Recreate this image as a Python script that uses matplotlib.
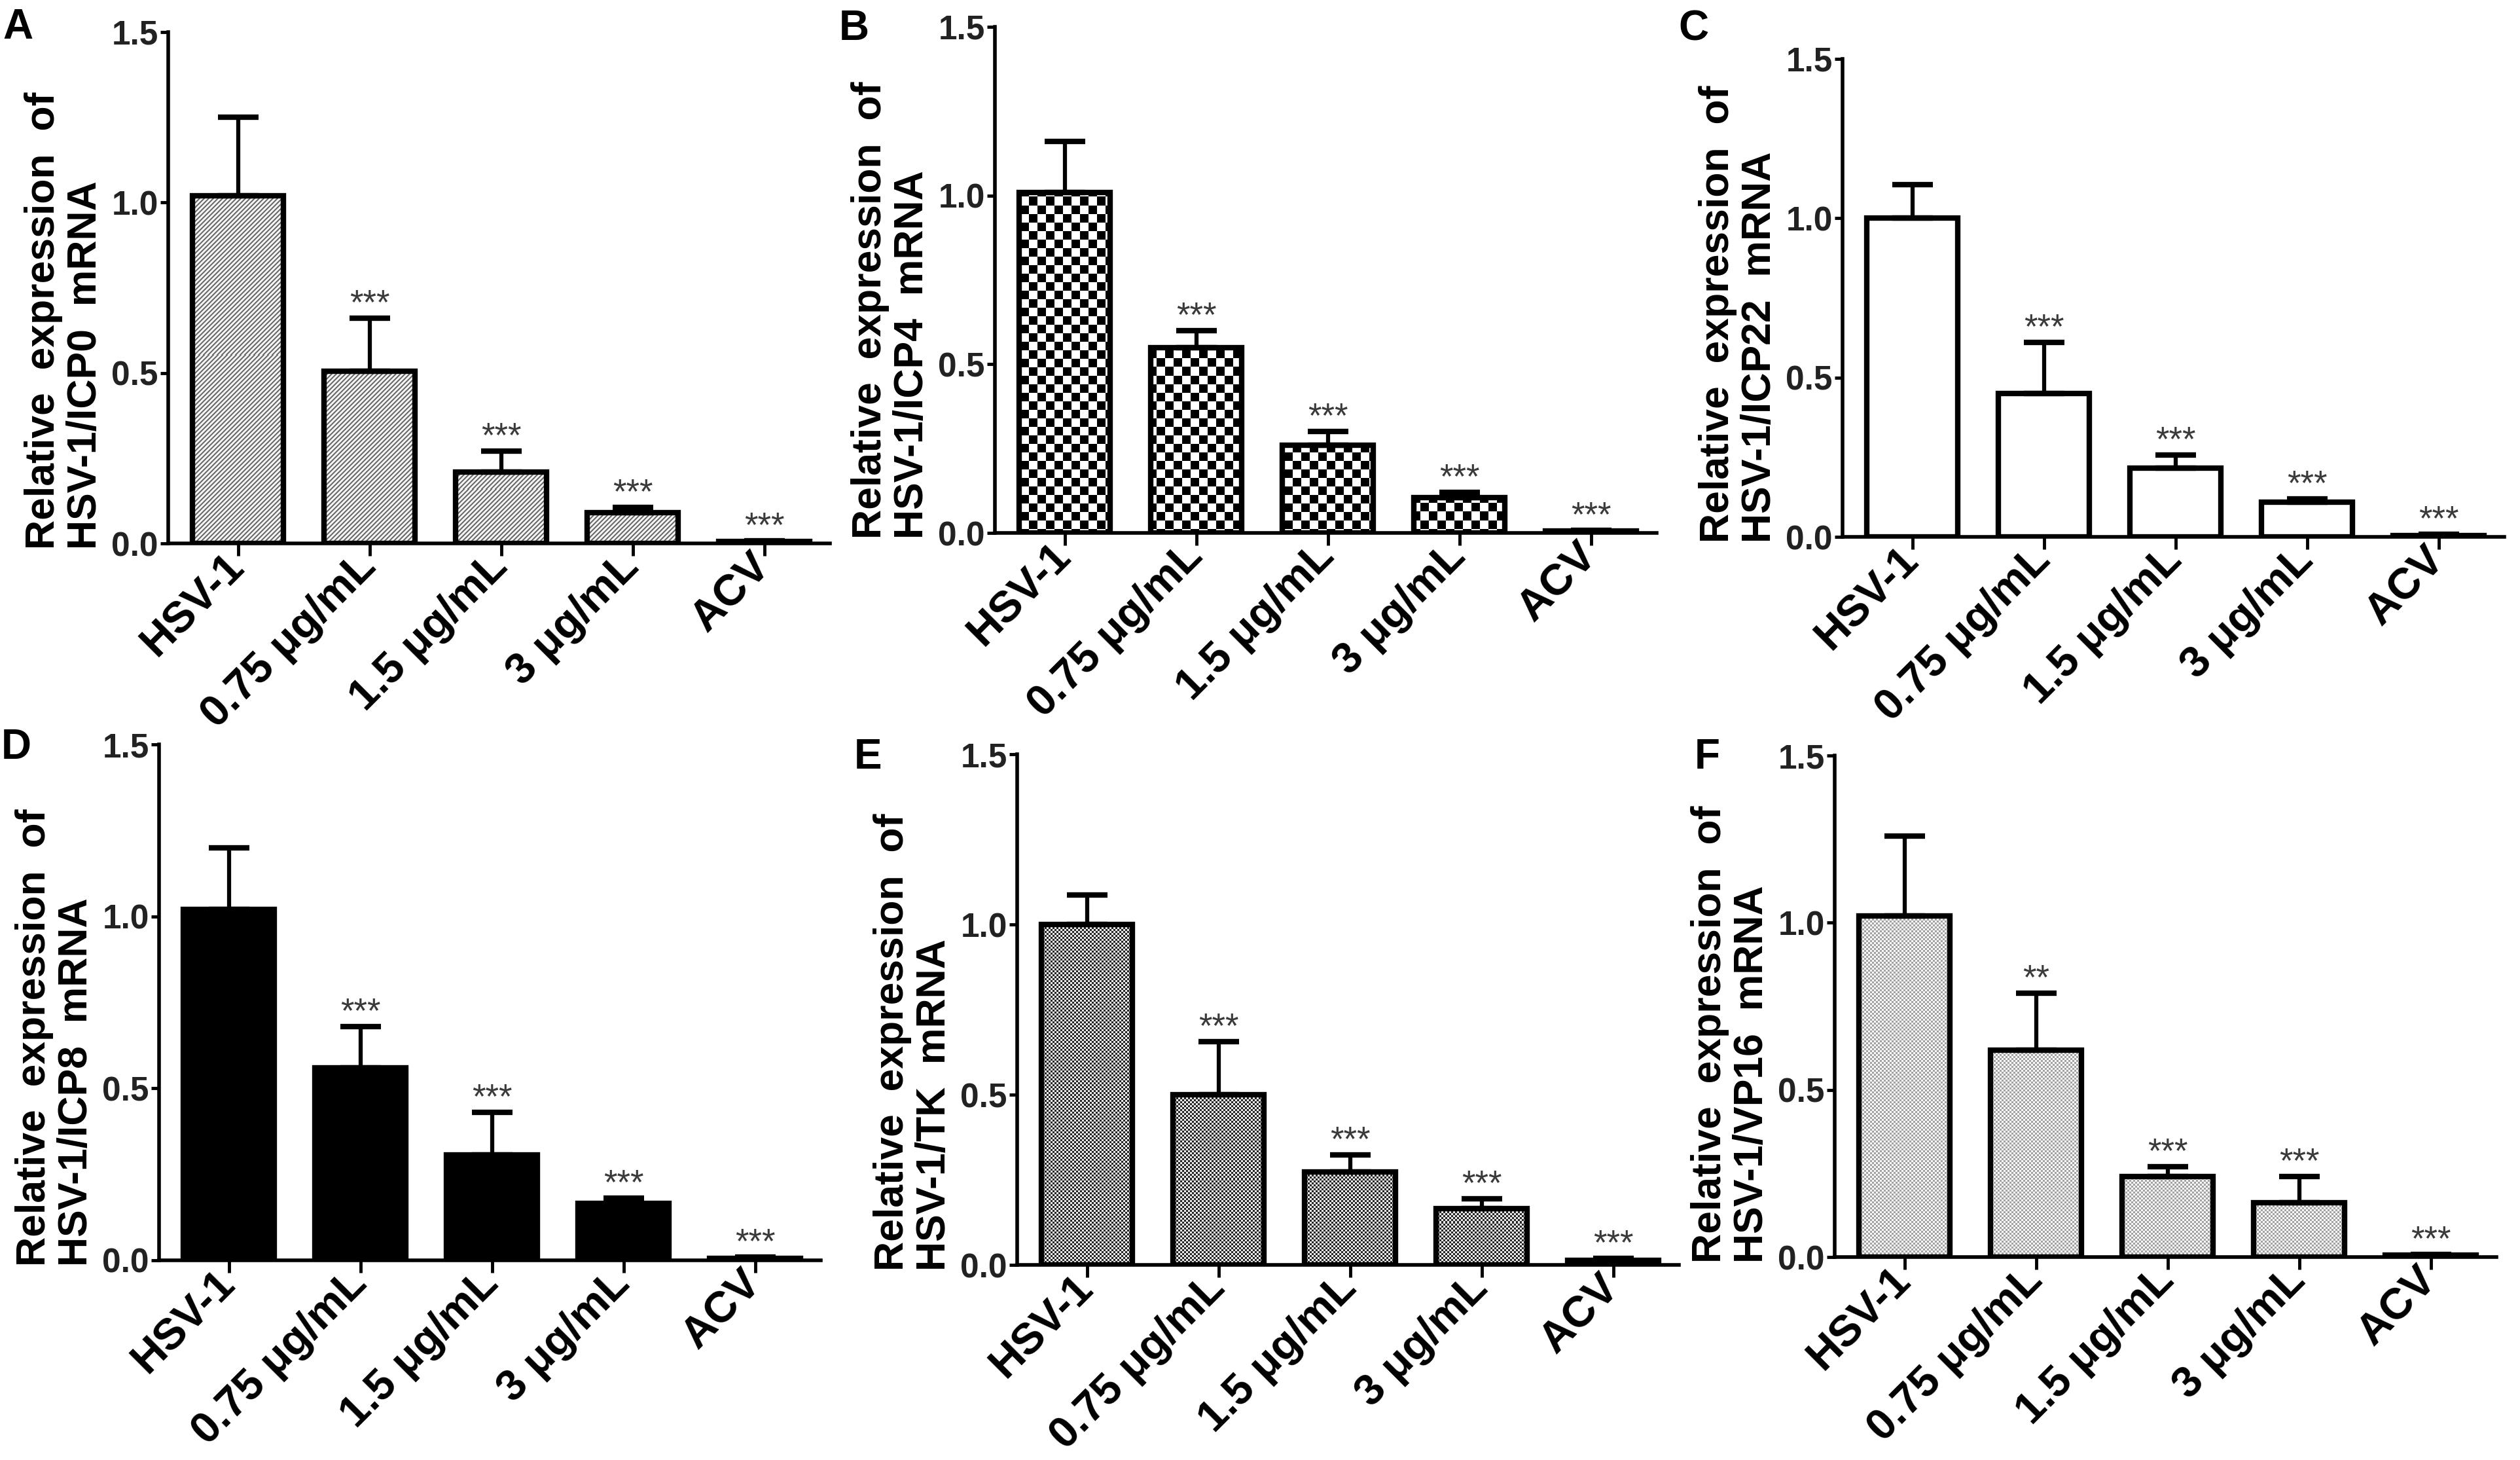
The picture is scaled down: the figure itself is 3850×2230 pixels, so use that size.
import numpy as np
import matplotlib.pyplot as plt

groups = ['HSV-1', '0.75 μg/mL', '1.5 μg/mL', '3 μg/mL', 'ACV']

# relative expression (mean) and upper error (SD) per gene
icp0_mean = [1.02, 0.505, 0.21, 0.09, 0.005]
icp0_err = [0.23, 0.155, 0.06, 0.015, 0.003]
icp4_mean = [1.01, 0.55, 0.26, 0.105, 0.005]
icp4_err = [0.15, 0.05, 0.04, 0.015, 0.003]
icp22_mean = [1.00, 0.45, 0.216, 0.108, 0.005]
icp22_err = [0.105, 0.16, 0.04, 0.012, 0.003]
icp8_mean = [1.02, 0.56, 0.306, 0.165, 0.006]
icp8_err = [0.18, 0.12, 0.125, 0.015, 0.004]
tk_mean = [1.00, 0.50, 0.273, 0.166, 0.014]
tk_err = [0.087, 0.155, 0.05, 0.028, 0.006]
vp16_mean = [1.02, 0.618, 0.24, 0.162, 0.005]
vp16_err = [0.24, 0.172, 0.03, 0.078, 0.003]

stars_all = ['', '***', '***', '***', '***']
stars_f = ['', '**', '***', '***', '***']

FW, FH = 3850, 2230
fig = plt.figure(figsize=(FW / 100, FH / 100), dpi=100)

narrow = ['Liberation Sans Narrow', 'Liberation Sans', 'DejaVu Sans']
wide = ['Liberation Sans', 'DejaVu Sans']

XLIM = (-0.53, 4.5)
YLIM = (0, 1.5)


def pattern(kind, h, w):
    i, j = np.mgrid[0:h, 0:w]
    if kind == 'diag':
        m = (i + j) % 7 < 3
        a, b = 0.45, 0.95
    elif kind == 'check':
        m = ((i // 13) + (j // 13)) % 2 == 0
        a, b = 0.0, 1.0
    elif kind == 'fine':
        m = ((i // 3) + (j // 3)) % 2 == 0
        a, b = 0.15, 0.92
    else:  # dots
        m = ((i // 3) + (j // 3)) % 2 == 0
        a, b = 0.64, 0.98
    g = np.where(m, a, b)
    return np.dstack([g, g, g])


panels = [
    # letter, letter pos, axes px (x0, ytop, y0), means, errs, stars, ylabel, fill
    ('A', (4, 12), (257, 49, 830), icp0_mean, icp0_err, stars_all,
     'Relative  expression  of\nHSV-1/ICP0  mRNA', 'diag'),
    ('B', (1282, 14), (1520, 41, 814), icp4_mean, icp4_err, stars_all,
     'Relative  expression  of\nHSV-1/ICP4  mRNA', 'check'),
    ('C', (2564, 14), (2815, 90, 820), icp22_mean, icp22_err, stars_all,
     'Relative  expression  of\nHSV-1/ICP22  mRNA', 'white'),
    ('D', (2, 1112), (243, 1137, 1925), icp8_mean, icp8_err, stars_all,
     'Relative  expression  of\nHSV-1/ICP8  mRNA', 'black'),
    ('E', (1305, 1127), (1554, 1152, 1932), tk_mean, tk_err, stars_all,
     'Relative  expression  of\nHSV-1/TK  mRNA', 'fine'),
    ('F', (2589, 1127), (2803, 1154, 1920), vp16_mean, vp16_err, stars_f,
     'Relative  expression  of\nHSV-1/VP16  mRNA', 'dots'),
]

x = np.arange(len(groups))

for letter, lpos, rect, means, errs, stars, ylab, fill in panels:
    x0, ytop, y0 = rect
    wpx = int(round(201 * (XLIM[1] - XLIM[0])))
    hpx = y0 - ytop
    ax = fig.add_axes([x0 / FW, 1 - y0 / FH, wpx / FW, hpx / FH])

    if fill == 'white':
        face = 'white'
    elif fill == 'black':
        face = 'black'
    else:
        face = 'none'
    bars = ax.bar(x, means, width=0.69, facecolor=face, edgecolor='black',
                  linewidth=6, zorder=3)
    if face == 'none':
        img = pattern(fill, hpx, wpx)
        for b in bars:
            im = ax.imshow(img, extent=(XLIM[0], XLIM[1], YLIM[0], YLIM[1]),
                           origin='upper', aspect='auto',
                           interpolation='nearest', zorder=2)
            im.set_clip_path(b)

    ax.errorbar(x, means, yerr=[np.zeros(len(means)), errs], fmt='none',
                ecolor='black', elinewidth=4.5, capsize=22, capthick=6,
                zorder=4)

    for xi, m, e, s in zip(x, means, errs, stars):
        if s:
            ax.annotate(s, (xi, m + e), xytext=(0, 5),
                        textcoords='offset points', ha='center',
                        va='baseline', fontsize=38, color='#3a3a3a',
                        family=wide, zorder=5)

    ax.set_xlim(*XLIM)
    ax.set_ylim(*YLIM)

    for sp in ['top', 'right']:
        ax.spines[sp].set_visible(False)
    for sp in ['left', 'bottom']:
        ax.spines[sp].set_linewidth(4)

    ax.set_yticks([0, 0.5, 1.0, 1.5])
    ax.set_yticklabels(['0.0', '0.5', '1.0', '1.5'], fontsize=37,
                       fontweight='bold', family=narrow, color='#222222')
    ax.tick_params(axis='y', length=9, width=3.5, pad=2)

    ax.set_xticks(x)
    ax.set_xticklabels(groups, fontsize=48, fontweight='bold', family=wide)
    for t in ax.get_xticklabels():
        t.set_rotation(45)
        t.set_ha('right')
        t.set_va('center')
        t.set_rotation_mode('anchor')
    ax.tick_params(axis='x', length=14, width=3.5, pad=5)

    ax.text(-0.157, -0.012, ylab, transform=ax.transAxes, rotation=90,
            ha='center', va='bottom', multialignment='left', fontsize=45,
            fontweight='bold', family=wide, linespacing=1.12)

    fig.text(lpos[0] / FW, 1 - lpos[1] / FH, letter, ha='left', va='top',
             fontsize=46, fontweight='bold', family=wide)

fig.savefig('out.png', dpi=100, facecolor='white')
